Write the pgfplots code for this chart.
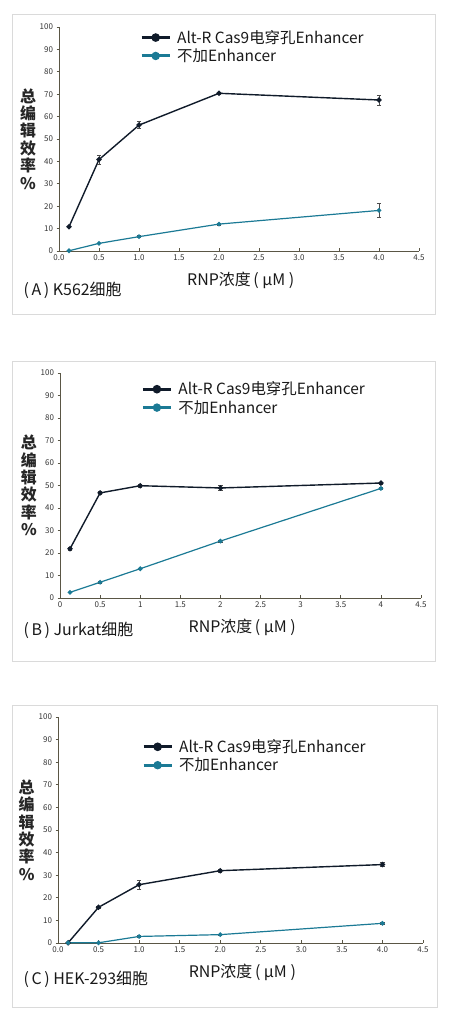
\documentclass[border=0pt]{standalone}
\usepackage{fontspec}
\setmainfont{Noto Sans CJK SC}
\usepackage{pgfplots}
\pgfplotsset{compat=1.18}

\definecolor{navy}{HTML}{101B2A}
\definecolor{tealc}{HTML}{1B7A95}
\definecolor{axisc}{HTML}{5A5645}
\definecolor{boxc}{HTML}{DADADA}

\tikzset{plabel/.style={anchor=west, font=\fontsize{16}{18}\selectfont, text=black!90}}

\pgfplotsset{
  panel/.style={
    scale only axis,
    axis lines*=left,
    xmin=0, xmax=4.5, ymin=0, ymax=100,
    xtick={0,0.5,1,1.5,2,2.5,3,3.5,4,4.5},
    ytick={0,10,...,100},
    /pgf/number format/assume math mode=true,
    tick label style={font=\fontsize{8}{9}\selectfont, text=black!80},
    axis line style={axisc, line width=0.8bp},
    tick style={axisc, line width=0.6bp},
    major tick length=2.5bp,
    ytick align=outside, xtick align=inside,
    clip=false,
    xlabel={RNP浓度\,( μM )},
    xlabel style={font=\fontsize{16}{18}\selectfont, text=black!90,
      at={(axis description cs:0.505,-0.13)}, anchor=center},
    ylabel={总\\编\\辑\\效\\率\\\%},
    ylabel style={font=\bfseries\fontsize{16}{17.5}\selectfont, text=black!85,
      rotate=-90, align=center, anchor=center,
      at={(axis description cs:-0.086,0.5)}},
    legend cell align=left,
    legend style={draw=none, fill=none, inner sep=0pt,
      font=\fontsize{15.5}{17}\selectfont, text=black!90,
      row sep=0bp, anchor=north west,
      /tikz/every odd column/.append style={column sep=4bp}},
  },
  fixone/.style={xticklabel style={/pgf/number format/.cd, fixed, fixed zerofill, precision=1}},
  enh/.style={navy, line width=1.4bp, mark=*, mark size=1.9bp,
    mark options={fill=navy},
    legend image code/.code={
      \draw[navy, line width=3bp] (0bp,0bp) -- (28bp,0bp);
      \fill[navy] (14bp,0bp) circle (3.6bp);},
    error bars/.cd, y dir=both, y explicit,
    error bar style={black!70, line width=0.6bp},
    error mark options={rotate=90, mark size=2.2bp, black!70, line width=0.6bp}},
  noenh/.style={tealc, line width=1.2bp, mark=*, mark size=1.7bp,
    mark options={fill=tealc},
    legend image code/.code={
      \draw[tealc, line width=3bp] (0bp,0bp) -- (28bp,0bp);
      \fill[tealc] (14bp,0bp) circle (3.6bp);},
    error bars/.cd, y dir=both, y explicit,
    error bar style={black!70, line width=0.6bp},
    error mark options={rotate=90, mark size=2.2bp, black!70, line width=0.6bp}},
}

\begin{document}
\begin{tikzpicture}[x=1bp, y=1bp]
\path[use as bounding box] (0,0) rectangle (450,1021);

% frames
\draw[boxc, line width=1bp] (12,706) rectangle (435,1006);
\draw[boxc, line width=1bp] (12,359) rectangle (435,659);
\draw[boxc, line width=1bp] (12,13) rectangle (437,315);

% (A) K562
\begin{axis}[panel, fixone, at={(59bp,770bp)}, anchor=south west,
  width=360bp, height=224bp,
  legend style={at={(axis description cs:0.225,0.995)}}]
\addplot+[enh] coordinates {
  (0.125,10.8) +- (0,0)
  (0.5,40.8)   +- (0,2.0)
  (1.0,56.2)   +- (0,1.6)
  (2.0,70.4)   +- (0,0.4)
  (4.0,67.4)   +- (0,2.2)
};
\addlegendentry{Alt-R Cas9电穿孔Enhancer}
\addplot+[noenh] coordinates {
  (0.125,0.1) +- (0,0)
  (0.5,3.4)   +- (0,0)
  (1.0,6.4)   +- (0,0.4)
  (2.0,12.0)  +- (0,0.5)
  (4.0,18.1)  +- (0,3.0)
};
\addlegendentry{不加Enhancer}
\end{axis}
\node[plabel] at (20,731) {(\,A\,) K562细胞};

% (B) Jurkat
\begin{axis}[panel, at={(60bp,423bp)}, anchor=south west,
  width=361bp, height=225bp,
  xticklabel style={/pgf/number format/.cd, fixed, precision=1},
  legend style={at={(axis description cs:0.225,0.97)}}]
\addplot+[enh] coordinates {
  (0.125,21.9) +- (0,0.6)
  (0.5,46.7)   +- (0,0.8)
  (1.0,49.9)   +- (0,0.5)
  (2.0,48.9)   +- (0,1.0)
  (4.0,51.1)   +- (0,0.5)
};
\addlegendentry{Alt-R Cas9电穿孔Enhancer}
\addplot+[noenh] coordinates {
  (0.125,2.5) +- (0,0)
  (0.5,7.0)   +- (0,0.4)
  (1.0,13.0)  +- (0,0.4)
  (2.0,25.3)  +- (0,0.4)
  (4.0,48.7)  +- (0,0.6)
};
\addlegendentry{不加Enhancer}
\end{axis}
\node[plabel] at (20,391) {(\,B\,) Jurkat细胞};

% (C) HEK-293
\begin{axis}[panel, fixone, at={(58bp,78bp)}, anchor=south west,
  width=365bp, height=226bp,
  legend style={at={(axis description cs:0.23,0.91)}}]
\addplot+[enh] coordinates {
  (0.125,0.1) +- (0,0)
  (0.5,15.8)  +- (0,0.6)
  (1.0,25.8)  +- (0,2.0)
  (2.0,32.0)  +- (0,0.6)
  (4.0,34.7)  +- (0,0.8)
};
\addlegendentry{Alt-R Cas9电穿孔Enhancer}
\addplot+[noenh] coordinates {
  (0.125,0.1) +- (0,0)
  (0.5,0.1)   +- (0,0)
  (1.0,2.9)   +- (0,0.3)
  (2.0,3.7)   +- (0,0.3)
  (4.0,8.7)   +- (0,0.3)
};
\addlegendentry{不加Enhancer}
\end{axis}
\node[plabel] at (20,42) {(\,C\,) HEK-293细胞};
\end{tikzpicture}
\end{document}
